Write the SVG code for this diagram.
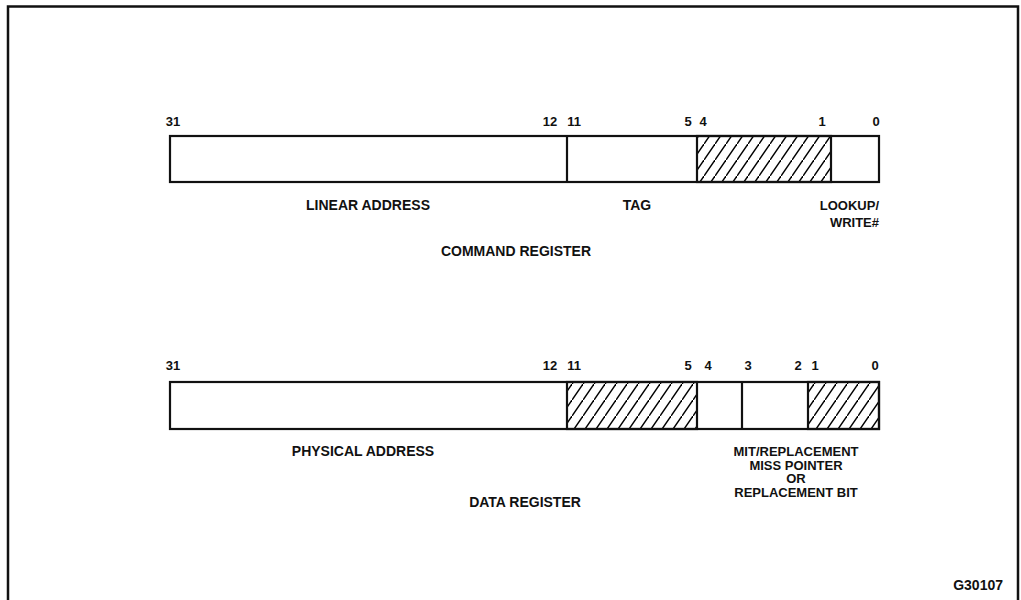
<svg xmlns="http://www.w3.org/2000/svg" width="1021" height="600" viewBox="0 0 1021 600">
<defs>
<pattern id="hatch" patternUnits="userSpaceOnUse" width="11" height="16">
<path d="M-1,17.45 L12,-1.45" stroke="#000" stroke-width="1.4"/>
</pattern>
<style>
text{font-family:"Liberation Sans",Arial,sans-serif;font-weight:bold;fill:#111;}
.lbl{font-size:14px;}
.sm{font-size:13px;}
.num{font-size:13px;text-anchor:middle;}
.box{fill:#fff;stroke:#111;stroke-width:2.2;}
.hat{fill:url(#hatch);stroke:#111;stroke-width:2.2;}
.div{stroke:#111;stroke-width:2.2;}
.frame{fill:none;stroke:#111;stroke-width:2.5;}
</style>
</defs>
<rect width="1021" height="600" fill="#fff"/>
<path class="frame" d="M8,602 V6.5 H1018 V602"/>

<g id="command-register">
<rect class="box" x="170" y="136" width="709" height="46"/>
<rect class="hat" x="697" y="136" width="134" height="46"/>
<line class="div" x1="567" y1="136" x2="567" y2="182"/>
<g class="bits">
<text class="num" x="173" y="126">31</text>
<text class="num" x="550" y="126">12</text>
<text class="num" x="574" y="126">11</text>
<text class="num" x="688" y="126">5</text>
<text class="num" x="703" y="126">4</text>
<text class="num" x="822" y="126">1</text>
<text class="num" x="876" y="126">0</text>
</g>
<text class="lbl" x="368" y="210" text-anchor="middle">LINEAR ADDRESS</text>
<text class="lbl" x="637" y="210" text-anchor="middle">TAG</text>
<text class="lbl sm" x="879" y="210" text-anchor="end">LOOKUP/</text>
<text class="lbl sm" x="879" y="227" text-anchor="end">WRITE#</text>
<text class="lbl" x="516" y="256" text-anchor="middle">COMMAND REGISTER</text>
</g>

<g id="data-register">
<rect class="box" x="170" y="382" width="709" height="47"/>
<rect class="hat" x="567" y="382" width="130" height="47"/>
<rect class="hat" x="808" y="382" width="71" height="47"/>
<line class="div" x1="742" y1="382" x2="742" y2="429"/>
<g class="bits">
<text class="num" x="173" y="370">31</text>
<text class="num" x="550" y="370">12</text>
<text class="num" x="574" y="370">11</text>
<text class="num" x="688" y="370">5</text>
<text class="num" x="708" y="370">4</text>
<text class="num" x="748" y="370">3</text>
<text class="num" x="798" y="370">2</text>
<text class="num" x="815" y="370">1</text>
<text class="num" x="875" y="370">0</text>
</g>
<text class="lbl" x="363" y="456" text-anchor="middle">PHYSICAL ADDRESS</text>
<text class="lbl sm" x="796" y="456" text-anchor="middle">MIT/REPLACEMENT</text>
<text class="lbl sm" x="796" y="469.5" text-anchor="middle">MISS POINTER</text>
<text class="lbl sm" x="796" y="483" text-anchor="middle">OR</text>
<text class="lbl sm" x="796" y="496.5" text-anchor="middle">REPLACEMENT BIT</text>
<text class="lbl" x="525" y="507" text-anchor="middle">DATA REGISTER</text>
</g>

<text class="lbl" x="1003" y="590" text-anchor="end">G30107</text>
</svg>
